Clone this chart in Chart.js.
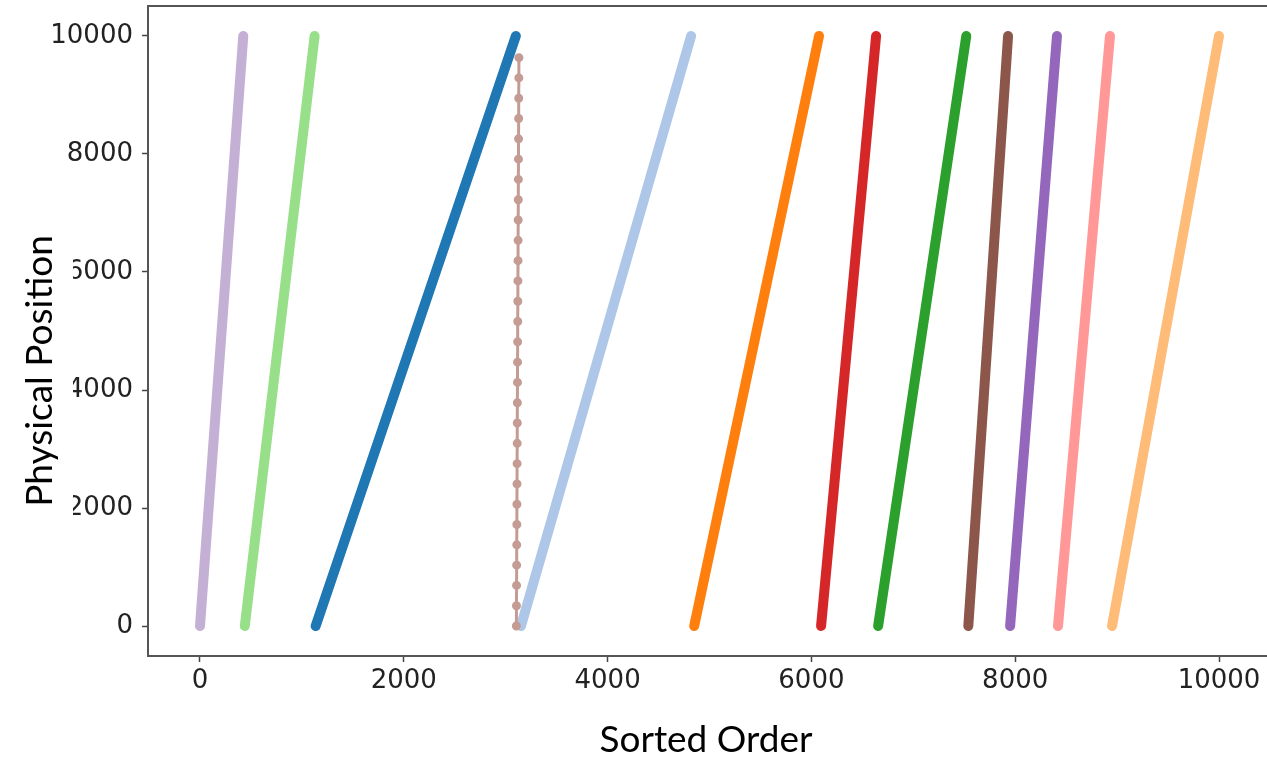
<!DOCTYPE html>
<html>
<head>
<meta charset="utf-8">
<script src="https://cdn.jsdelivr.net/npm/chart.js@4.4.1/dist/chart.umd.min.js"></script>
<style>
    html, body { margin: 0; padding: 0; background: #fff; }
    #wrap { width: 1267px; height: 764px; position: relative; }
</style>
</head>
<body>
<div id="wrap"><canvas id="runs-chart"></canvas></div>
<script>
    "use strict";

    // Sorted runs: where each run starts and ends in sorted order
    var runStart = [0, 440, 1135, 3150, 4850, 6095, 6655, 7540, 7950, 8420, 8950];
    var runEnd = [425, 1125, 3100, 4820, 6075, 6635, 7520, 7930, 8410, 8930, 10000];
    var runColors = ["#c5b0d5", "#98df8a", "#1f77b4", "#aec7e8", "#ff7f0e", "#d62728",
                     "#2ca02c", "#8c564b", "#9467bd", "#ff9896", "#ffbb78"];

    // Physical position range of every run
    var posLow = 0;
    var posHigh = 10000;

    // The near-vertical dotted run
    var dotRunX = [3105, 3130];
    var dotRunY = [0, 9680];

    var xTicks = [0, 2000, 4000, 6000, 8000, 10000];
    var yTicks = [0, 2000, 4000, 6000, 8000, 10000];

    var datasets = [];
    for (var i = 0; i < runStart.length; i++) {
        datasets.push({
            data: [{x: runStart[i], y: posLow}, {x: runEnd[i], y: posHigh}],
            borderColor: runColors[i],
            borderWidth: 10,
            borderCapStyle: "round",
            pointRadius: 0,
            order: 2
        });
    }
    var dotData = dotRunX.map(function (x, k) { return {x: x, y: dotRunY[k]}; });
    datasets.push({
        data: dotData,
        borderColor: "#c49c94",
        borderWidth: 3,
        pointRadius: 0,
        order: 1
    });
    datasets.push({
        data: dotData,
        borderColor: "#c49c94",
        borderWidth: 9,
        borderCapStyle: "round",
        borderDash: [0, 20.3],
        pointRadius: 0,
        order: 1
    });

    // Axis titles with white boxes, and the top spine
    var decorations = {
        id: "decorations",
        afterDraw: function (chart) {
            var c = chart.ctx;
            var area = chart.chartArea;
            c.save();
            c.strokeStyle = "#555";
            c.lineWidth = 2;
            c.beginPath();
            c.moveTo(area.left, area.top);
            c.lineTo(area.right, area.top);
            c.stroke();

            c.font = "37px Lato";
            c.fillStyle = "#000";
            c.textAlign = "center";
            c.textBaseline = "alphabetic";
            c.fillText("Sorted Order", 706, 752);

            c.translate(52, 371);
            c.rotate(-Math.PI / 2);
            c.fillStyle = "#fff";
            c.fillRect(-150, -40, 300, 61);
            c.fillStyle = "#000";
            c.fillText("Physical Position", 0, 0);
            c.restore();
        }
    };

    var plainLabel = function (v) { return String(v); };

    new Chart(document.getElementById("runs-chart"), {
        type: "line",
        data: {datasets: datasets},
        plugins: [decorations],
        options: {
            responsive: true,
            maintainAspectRatio: false,
            animation: false,
            layout: {padding: {top: 6, right: 0, bottom: 0, left: 0}},
            plugins: {legend: {display: false}, tooltip: {enabled: false}},
            scales: {
                x: {
                    type: "linear",
                    min: -510,
                    max: 10471,
                    afterBuildTicks: function (s) { s.ticks = xTicks.map(function (v) { return {value: v}; }); },
                    afterFit: function (s) { s.height = 108; s.paddingLeft = 0; s.paddingRight = 0; },
                    grid: {drawOnChartArea: false, tickLength: 6, tickWidth: 1.5, tickColor: "#444"},
                    border: {color: "#555", width: 2},
                    ticks: {font: {family: "'DejaVu Sans'", size: 26}, color: "#222", padding: 4,
                            maxRotation: 0, callback: plainLabel}
                },
                y: {
                    type: "linear",
                    min: -508,
                    max: 10508,
                    afterBuildTicks: function (s) { s.ticks = yTicks.map(function (v) { return {value: v}; }); },
                    afterFit: function (s) { s.width = 148; s.paddingTop = 0; s.paddingBottom = 0; },
                    grid: {drawOnChartArea: false, tickLength: 6, tickWidth: 1.5, tickColor: "#444"},
                    border: {color: "#555", width: 2},
                    ticks: {font: {family: "'DejaVu Sans'", size: 26}, color: "#222", padding: 9,
                            callback: plainLabel}
                }
            }
        }
    });
</script>
</body>
</html>
